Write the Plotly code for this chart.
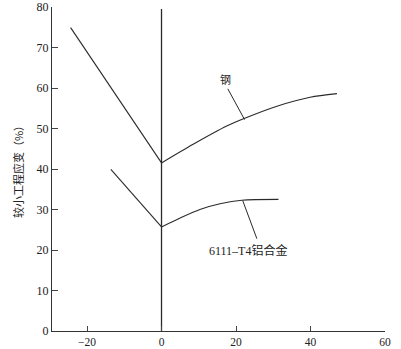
import plotly.graph_objects as go

# Steel (钢): straight left branch, curved right branch
steel_left_x = [-24.4, 0]
steel_left_y = [74.9, 41.5]
steel_right_x = [0, 8.5, 17.5, 22.0, 31.0, 39.9, 47.1]
steel_right_y = [41.5, 46.1, 50.6, 52.4, 55.5, 57.7, 58.6]
# 6111-T4 aluminium alloy
alu_left_x = [-13.6, 0]
alu_left_y = [39.9, 25.7]
alu_right_x = [0, 5.0, 10.3, 15.7, 21.6, 31.4]
alu_right_y = [25.7, 27.9, 30.0, 31.4, 32.3, 32.5]
# vertical reference line at x = 0
vline_x = [0, 0]
vline_y = [0, 79.5]

x_ticks = [-20, 0, 20, 40, 60]
y_ticks = [0, 10, 20, 30, 40, 50, 60, 70, 80]
y_title = "较小工程应变（%）"
steel_label = "钢"
alu_label = "6111–T4铝合金"

line_color = "#2a2a2a"
serif = "Liberation Serif, DejaVu Serif, serif"
fig = go.Figure()
fig.add_trace(go.Scatter(x=vline_x, y=vline_y, mode="lines",
                         line=dict(color=line_color, width=1.3), showlegend=False))
fig.add_trace(go.Scatter(x=steel_left_x, y=steel_left_y, mode="lines",
                         line=dict(color=line_color, width=1.1), showlegend=False))
fig.add_trace(go.Scatter(x=steel_right_x, y=steel_right_y, mode="lines",
                         line=dict(color=line_color, width=1.1, shape="spline", smoothing=0.8),
                         showlegend=False))
fig.add_trace(go.Scatter(x=alu_left_x, y=alu_left_y, mode="lines",
                         line=dict(color=line_color, width=1.1), showlegend=False))
fig.add_trace(go.Scatter(x=alu_right_x, y=alu_right_y, mode="lines",
                         line=dict(color=line_color, width=1.1, shape="spline", smoothing=0.8),
                         showlegend=False))
# leader lines
fig.add_trace(go.Scatter(x=[17.8, 22.3], y=[59.8, 52.2], mode="lines",
                         line=dict(color=line_color, width=1), showlegend=False))
fig.add_trace(go.Scatter(x=[21.8, 25.6], y=[32.2, 22.8], mode="lines",
                         line=dict(color=line_color, width=1), showlegend=False))

fig.add_annotation(x=17.3, y=62.3, text=steel_label, showarrow=False,
                   font=dict(family="Noto Sans CJK SC", size=11, color="#222"))
fig.add_annotation(x=23.1, y=19.9, text=alu_label, showarrow=False,
                   font=dict(family=serif + ", Noto Sans CJK SC", size=12, color="#222"))

fig.update_layout(
    width=401, height=349,
    margin=dict(l=52, r=16, t=7, b=18),
    paper_bgcolor="white", plot_bgcolor="white",
    xaxis=dict(range=[-29.4, 60], tickvals=x_ticks, ticks="inside", ticklen=5,
               tickcolor="#444", showline=True, linecolor="#333", linewidth=1.2,
               showgrid=False, zeroline=False, automargin=False,
               tickfont=dict(family=serif, size=11.5, color="#222")),
    yaxis=dict(range=[0, 80], tickvals=y_ticks, ticks="inside", ticklen=6,
               tickcolor="#444", showline=True, linecolor="#333", linewidth=1.2,
               showgrid=False, zeroline=False, automargin=False,
               tickfont=dict(family=serif, size=12, color="#222"),
               title=dict(text=y_title, standoff=10,
                          font=dict(family="Noto Sans CJK SC", size=11, color="#222"))),
)
fig.write_html("out.html")
